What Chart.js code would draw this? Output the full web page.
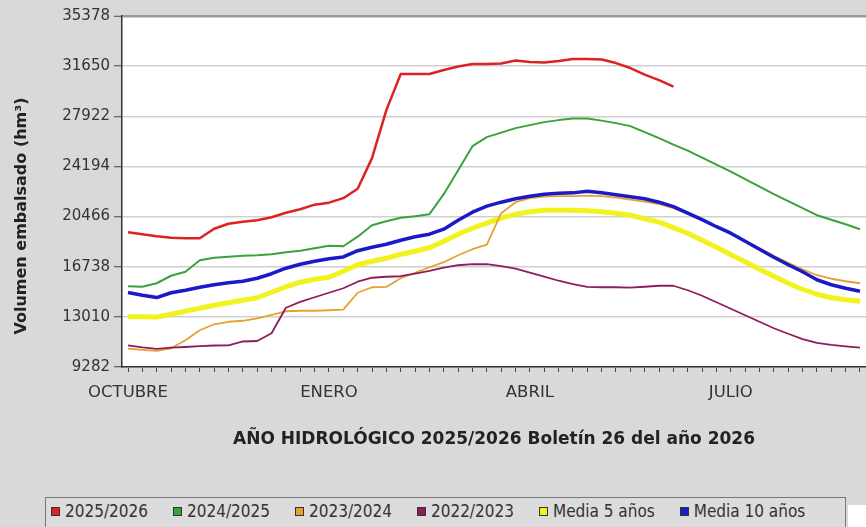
<!DOCTYPE html>
<html>
<head>
<meta charset="utf-8">
<script src="https://cdn.jsdelivr.net/npm/chart.js@4/dist/chart.umd.min.js"></script>
<style>
  html, body { margin: 0; padding: 0; background: #d9d9d9; }
  #wrap { position: relative; width: 866px; height: 527px; overflow: hidden; }
  #chart { position: absolute; left: 0; top: 0; }
  #legend {
    position: absolute; left: 45px; top: 497px; width: 801px; height: 36px;
    border: 1px solid #777; box-sizing: border-box; background: #dcdcdc;
    display: flex; align-items: flex-start; padding: 3px 0 0 5px;
    font-family: "DejaVu Sans Condensed", "DejaVu Sans", sans-serif; font-size: 17px; color: #333;
  }
  #legend .item { display: flex; align-items: center; margin-right: 25px; white-space: nowrap; }
  #legend .box { width: 7px; height: 7px; border: 1px solid #333; margin-right: 5px; }
  #corner { position: absolute; left: 848px; top: 505px; width: 18px; height: 22px; background: #fff; }
</style>
</head>
<body>
<div id="wrap">
  <canvas id="chart" width="866" height="527"></canvas>
  <div id="legend"></div>
  <div id="corner"></div>
</div>
<script>
// chart data (weekly values, hm3)
const seriesNames = ["2025/2026", "2024/2025", "2023/2024", "2022/2023", "Media 5 años", "Media 10 años"];
const seriesColors = ["#dd2222", "#3aa23a", "#e8a030", "#8e1c5c", "#f2f21e", "#1a1ac8"];

const monthTicks = [0, 14, 28, 42];
const monthNames = ["OCTUBRE", "ENERO", "ABRIL", "JULIO"];
const yTicks = [9282, 13010, 16738, 20466, 24194, 27922, 31650, 35378];

const s2526 = [19304,19155,19006,18894,18857,18857,19564,19936,20085,20197,20420,20755,21015,21350,21499,21834,22540,24810,28380,31060,
  31060,31060,31358,31618,31804,31804,31841,32063,31953,31915,32027,32175,32175,32138,31878,31510,31022,30613,30130];
const s2425 = [15286,15249,15509,16067,16365,17221,17406,17481,17555,17592,17667,17816,17927,18113,18299,18262,18969,19824,20122,20383,
  20494,20643,22131,23917,25702,26372,26707,27042,27265,27488,27637,27749,27749,27600,27414,27191,26744,26298,25814,25368,
  24846,24326,23805,23247,22689,22131,21610,21089,20568,20234,19899,19527];
const s2324 = [10651,10562,10487,10673,11268,12012,12459,12645,12719,12905,13166,13426,13463,13463,13500,13553,14802,15212,15234,15881,
  16291,16700,17072,17593,18039,18374,20717,21536,21833,21945,21982,21982,22020,21982,21870,21722,21573,21387,21089,20680,
  20197,19713,19229,18671,18113,17555,17034,16551,16105,15844,15658,15509];
const s2223 = [10896,10748,10636,10725,10770,10837,10882,10896,11179,11216,11789,13686,14118,14468,14802,15137,15621,15919,15993,16030,
  16216,16424,16662,16848,16923,16923,16774,16588,16290,15993,15695,15435,15234,15212,15212,15190,15249,15323,15323,14988,
  14579,14096,13612,13129,12645,12161,11752,11358,11083,10934,10822,10725];
const media5 = [13017,13017,13002,13203,13426,13649,13872,14058,14244,14430,14840,15249,15584,15807,15956,16402,16886,17146,17369,17667,
  17890,18151,18634,19155,19601,19973,20345,20643,20829,20940,20940,20940,20903,20829,20717,20568,20308,20048,19638,19229,
  18709,18188,17630,17109,16551,16030,15509,15063,14691,14430,14281,14170];
const media10 = [14817,14617,14445,14802,14988,15212,15398,15546,15658,15881,16216,16625,16923,17146,17332,17466,17927,18188,18411,18709,
  18969,19155,19527,20197,20792,21238,21536,21796,21982,22131,22205,22228,22354,22243,22094,21945,21796,21536,21201,20717,
  20234,19713,19229,18634,18039,17444,16886,16365,15770,15398,15137,14914];

const weeks = Array.from({length: 52}, (_, i) => i);

// legend in html
const legendEl = document.getElementById("legend");
seriesNames.forEach((name, i) => {
  legendEl.innerHTML += `<span class="item"><span class="box" style="background:${seriesColors[i]}"></span>${name}</span>`;
});

const plotBg = {
  id: "plotBg",
  beforeDraw(chart) {
    const {ctx, chartArea: a} = chart;
    ctx.save();
    ctx.fillStyle = "#ffffff";
    ctx.fillRect(a.left, a.top, chart.width - a.left, a.bottom - a.top);
    ctx.restore();
  }
};

const yTitle = {
  id: "yTitle",
  afterDraw(chart) {
    const ctx = chart.ctx;
    ctx.save();
    ctx.translate(22, 216);
    ctx.rotate(-Math.PI / 2);
    ctx.font = "bold 16px 'DejaVu Sans'";
    ctx.fillStyle = "#222";
    ctx.textAlign = "center";
    ctx.textBaseline = "middle";
    ctx.fillText("Volumen embalsado (hm³)", 0, 0);
    ctx.restore();
  }
};

const allData = [s2526, s2425, s2324, s2223, media5, media10];
const widths = [2.5, 2, 1.8, 1.8, 5, 3.5];
const orders = [0, 1, 4, 3, 5, 2];

new Chart(document.getElementById("chart"), {
  type: "line",
  data: {
    labels: weeks,
    datasets: allData.map((d, i) => ({
      label: seriesNames[i],
      data: d,
      borderColor: seriesColors[i],
      backgroundColor: seriesColors[i],
      borderWidth: widths[i],
      order: orders[i],
      pointRadius: 0,
      tension: 0,
      borderJoinStyle: "round",
      fill: false
    }))
  },
  options: {
    responsive: false,
    animation: false,
    devicePixelRatio: 1,
    layout: { padding: { top: 16, right: 0, bottom: 64, left: 0 } },
    plugins: { legend: { display: false }, tooltip: { enabled: false } },
    scales: {
      x: {
        type: "linear",
        min: -0.42,
        max: 51.42,
        afterFit(scale) {
          scale.height = 96;
          scale.paddingLeft = 0;
          scale.paddingRight = 0;
        },
        afterBuildTicks(scale) {
          scale.ticks = weeks.map(v => ({value: v}));
        },
        ticks: {
          stepSize: 1,
          autoSkip: false,
          maxRotation: 0,
          padding: 11,
          color: "#333",
          font: { family: "DejaVu Sans", size: 16.5 },
          callback: (v) => {
            const k = monthTicks.indexOf(v);
            return k >= 0 ? monthNames[k] : "";
          }
        },
        grid: { drawOnChartArea: false, drawTicks: true, tickLength: 5, tickColor: "#444", tickWidth: 1 },
        border: { color: "#333", width: 1.5 },
        title: {
          display: true,
          text: "AÑO HIDROLÓGICO 2025/2026 Boletín 26 del año 2026",
          color: "#222",
          font: { family: "DejaVu Sans", size: 17, weight: "bold" },
          padding: { top: 0, bottom: 13 }
        }
      },
      y: {
        min: 9282,
        max: 35378,
        afterFit(scale) { scale.width = 122; },
        afterBuildTicks(scale) {
          scale.ticks = yTicks.map(v => ({value: v}));
        },
        ticks: {
          padding: 4,
          color: "#333",
          font: { family: "DejaVu Sans", size: 15 },
          callback: (v) => String(v)
        },
        grid: {
          color: (c) => (c.tick && c.tick.value === 35378 ? "#9a9a9a" : "#cfcfcf"),
          lineWidth: (c) => (c.tick && c.tick.value === 35378 ? 2.5 : 1.5),
          tickLength: 8,
          tickColor: "#444",
          tickWidth: 1
        },
        border: { color: "#333", width: 1.5 }
      }
    }
  },
  plugins: [plotBg, yTitle]
});
</script>
</body>
</html>
